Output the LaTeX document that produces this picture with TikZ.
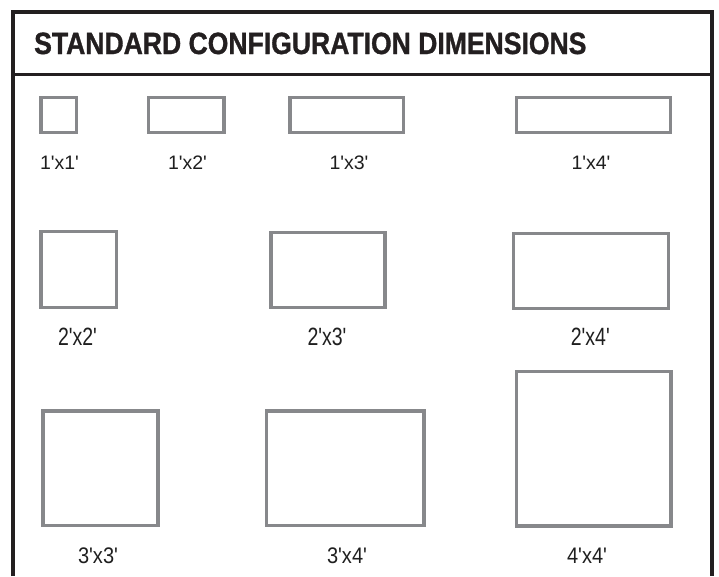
\documentclass[tikz,border=0pt]{standalone}
\usepackage{fontspec}
\usepackage{graphicx}
\setmainfont{Liberation Sans}
\newfontfamily\titlefont{Liberation Sans}[UprightFont={* Bold}, FakeBold=1.2]
\definecolor{framecol}{HTML}{231F20}
\definecolor{boxgray}{HTML}{87888B}
\newcommand{\q}{\textquotesingle}
\newcommand{\rowA}[1]{\fontsize{19.5}{22}\selectfont #1}
\newcommand{\rowB}[1]{\scalebox{0.78}[1]{\fontsize{25}{28}\selectfont #1}}
\newcommand{\rowC}[1]{\scalebox{0.89}[1]{\fontsize{22.5}{26}\selectfont #1}}
\tikzset{
  frameline/.style={draw=framecol, line width=4pt},
  headline/.style={draw=framecol, line width=3pt},
  cfgbox/.style={draw=boxgray, line width=3.3pt, fill=white, inner sep=0pt, outer sep=0pt},
  dimlabel/.style={anchor=base, inner sep=0pt, text=black!88}
}
\begin{document}
\begin{tikzpicture}[x=1pt,y=-1pt]
\useasboundingbox (0,0) rectangle (719,576);
\fill[white] (0,0) rectangle (719,576);
% frame
\draw[frameline] (13,576) -- (13,12) -- (712,12) -- (712,576);
\draw[headline] (13,74.5) -- (712,74.5);
\node[anchor=base west, inner sep=0pt, text=framecol] (title) at (34,54)
  {\scalebox{0.865}[1]{\fontsize{30.7}{34}\titlefont STANDARD CONFIGURATION DIMENSIONS}};
% row 1
\node[cfgbox, minimum width=35.7pt, minimum height=35.4pt] (b11) at (58.85,115) {};
\node[cfgbox, minimum width=75.7pt, minimum height=35.4pt] (b12) at (186.15,115) {};
\node[cfgbox, minimum width=113.3pt, minimum height=35.4pt] (b13) at (346.65,115) {};
\node[cfgbox, minimum width=154pt, minimum height=35.4pt] (b14) at (593.7,115) {};
\node[dimlabel] (l11) at (59.5,169) {\rowA{1\q x1\q}};
\node[dimlabel] (l12) at (187.5,169) {\rowA{1\q x2\q}};
\node[dimlabel] (l13) at (349,169) {\rowA{1\q x3\q}};
\node[dimlabel] (l14) at (591,169) {\rowA{1\q x4\q}};
% row 2
\node[cfgbox, minimum width=75.7pt, minimum height=76pt] (b22) at (78.85,269.7) {};
\node[cfgbox, minimum width=114pt, minimum height=75.1pt] (b23) at (328,270.15) {};
\node[cfgbox, minimum width=155.1pt, minimum height=75.1pt] (b24) at (591.15,270.85) {};
\node[dimlabel] (l22) at (77.5,345) {\rowB{2\q x2\q}};
\node[dimlabel] (l23) at (327,345) {\rowB{2\q x3\q}};
\node[dimlabel] (l24) at (590.3,345) {\rowB{2\q x4\q}};
% row 3
\node[cfgbox, minimum width=115pt, minimum height=114.7pt] (b33) at (100.5,468.35) {};
\node[cfgbox, minimum width=157.3pt, minimum height=114.5pt] (b34) at (345.35,468.25) {};
\node[cfgbox, minimum width=154.3pt, minimum height=154.3pt] (b44) at (593.85,448.85) {};
\node[dimlabel] (l33) at (98,563) {\rowC{3\q x3\q}};
\node[dimlabel] (l34) at (347,563) {\rowC{3\q x4\q}};
\node[dimlabel] (l44) at (587,563) {\rowC{4\q x4\q}};
\end{tikzpicture}
\end{document}
